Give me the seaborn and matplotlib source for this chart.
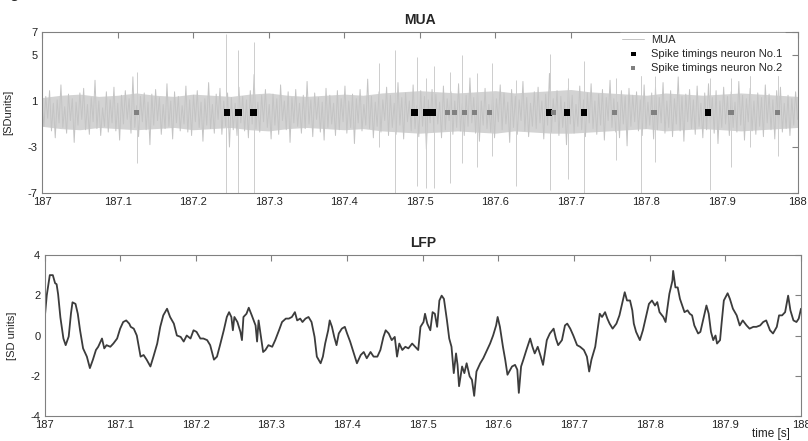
import numpy as np
import pandas as pd
import matplotlib
matplotlib.use('Agg')
import matplotlib.pyplot as plt
import seaborn as sns

sns.set_style("white")
plt.rcParams['font.family'] = ['Liberation Sans', 'DejaVu Sans']

# MUA trace (SD units), equally spaced samples over 187-188 s
mua_v = [
    0.6, -1.2, 1.4, -0.5, 1.9, -1.6, 0.8, -2.2, 1.1, -0.9, 2.4, -1.3, 0.5, -1.8, 1.6, -0.7, 1.2, -2.6, 0.9, -1.1,
    1.7, -0.6, 2.1, -1.5, 0.7, -1.9, 1.3, -0.8, 2.8, -1.4, 1.0, -2.0, 0.4, -1.2, 1.8, -1.7, 1.1, -0.9, 2.2, -1.6,
    0.8, -2.4, 1.5, -1.0, 1.9, -0.6, 1.2, -1.8, 3.1, -1.3, 0.6, -2.1, 1.4, -0.8, 1.7, -1.5, 0.9, -2.8, 1.6, -1.1,
    2.0, -0.7, 1.3, -1.9, 0.7, -1.4, 2.5, -1.2, 1.0, -2.3, 1.8, -0.9, 1.4, -1.6, 0.6, -1.0, 2.3, -1.7, 1.1, -2.0,
    1.5, -0.8, 1.9, -1.3, 0.9, -2.5, 1.2, -1.1, 2.6, -1.4, 0.7, -1.8, 1.6, -0.6, 2.1, -1.9, 1.0, -1.2, 1.7, -3.0,
    1.3, -1.5, 0.8, -2.0, 2.2, -0.9, 1.4, -1.6, 1.1, -2.2, 1.9, -1.0, 3.3, -1.4, 0.9, -1.7, 1.5, -0.8, 2.0, -1.3,
    0.7, -2.3, 1.6, -1.1, 1.2, -1.9, 2.4, -0.7, 1.0, -1.5, 1.8, -2.6, 1.3, -0.9, 2.0, -1.2, 0.8, -1.8, 1.5, -1.4,
    2.7, -1.0, 1.1, -2.1, 1.7, -0.6, 1.3, -1.7, 0.9, -2.4, 2.1, -1.3, 1.5, -1.0, 0.8, -2.0, 1.9, -1.5, 1.2, -0.8,
    2.3, -1.8, 1.0, -1.3, 1.6, -2.7, 1.2, -0.9, 2.0, -1.6, 0.7, -1.1, 2.9, -1.4, 1.4, -2.2, 0.9, -1.2, 1.8, -1.7,
    1.1, -0.7, 2.2, -2.0, 1.5, -1.3, 0.8, -1.9, 2.6, -1.1, 1.3, -2.3, 1.7, -0.8, 1.0, -1.6, 2.4, -1.4, 0.6, -2.1,
    1.9, -1.2, 1.4, -3.2, 1.1, -0.9, 2.0, -1.7, 1.6, -1.0, 0.9, -2.2, 2.3, -1.5, 1.2, -0.7, 1.8, -1.9, 1.0, -1.3,
    2.5, -1.6, 0.8, -2.0, 1.5, -1.2, 3.0, -0.9, 1.3, -1.8, 1.9, -2.5, 1.0, -1.1, 2.1, -1.4, 0.7, -1.7, 1.6, -2.2,
    1.2, -0.8, 2.4, -1.5, 1.7, -1.0, 0.9, -2.6, 2.0, -1.3, 1.4, -1.9, 1.1, -0.7, 2.7, -1.6, 1.3, -2.1, 0.8, -1.2,
    1.8, -1.4, 2.2, -0.9, 1.0, -2.3, 1.6, -1.1, 3.4, -1.7, 1.2, -0.8, 1.9, -2.0, 1.4, -1.3, 0.9, -2.8, 2.1, -1.0,
    1.5, -1.8, 0.7, -1.2, 2.3, -1.5, 1.1, -2.1, 1.7, -0.9, 2.5, -1.4, 1.0, -1.9, 1.6, -1.1, 2.0, -2.4, 1.3, -0.7,
    2.8, -1.3, 1.2, -1.7, 0.9, -2.2, 1.9, -1.0, 1.4, -2.9, 2.1, -1.2, 1.5, -0.8, 1.8, -1.6, 1.1, -2.0, 2.4, -1.4,
    0.9, -1.1, 1.7, -2.3, 2.2, -1.5, 1.3, -0.9, 2.6, -1.8, 1.0, -1.3, 1.9, -2.1, 1.2, -1.0, 3.1, -1.6, 1.4, -2.5,
    1.6, -0.8, 2.0, -1.4, 1.1, -1.9, 2.3, -1.2, 0.8, -2.2, 1.7, -1.5, 2.5, -0.9, 1.3, -1.8, 1.9, -2.7, 1.0, -1.3,
    2.2, -1.0, 1.4, -2.0, 1.8, -1.3, 0.9, -1.7, 2.7, -1.1, 1.5, -2.4, 1.2, -0.8, 2.1, -1.6, 1.0, -1.9, 1.7, -1.2,
    1.3, -2.1, 2.4, -0.9, 1.6, -1.5, 1.1, -2.3, 1.9, -1.0, 2.2, -1.7, 0.8, -1.4, 1.5, -2.0, 1.2, -1.1, 1.8, -0.6,
]

# dense core of the MUA band (upper / lower edge), every 25 ms
mua_core_hi = [1.3, 1.5, 1.6, 1.4, 1.5, 1.7, 1.5, 1.4, 1.6, 1.5, 1.4, 1.6, 1.7, 1.5,
               1.4, 1.5, 1.6, 1.5, 1.7, 1.8, 1.9, 1.8, 1.7, 1.8, 1.9, 1.7, 1.8, 1.9,
               2.0, 1.8, 1.7, 1.6, 1.5, 1.7, 1.6, 1.5, 1.6, 1.7, 1.6, 1.5, 1.4]
mua_core_lo = [-1.2, -1.4, -1.5, -1.3, -1.4, -1.5, -1.4, -1.3, -1.5, -1.4, -1.3, -1.5, -1.6, -1.4,
               -1.3, -1.4, -1.5, -1.4, -1.6, -1.7, -1.8, -1.7, -1.6, -1.7, -1.8, -1.6, -1.7, -1.8,
               -1.8, -1.7, -1.6, -1.5, -1.4, -1.6, -1.5, -1.4, -1.5, -1.6, -1.5, -1.4, -1.3]

# large MUA transients: time, peak, trough
spike_t = [187.126, 187.244, 187.260, 187.280, 187.446, 187.467, 187.496, 187.508,
           187.519, 187.540, 187.556, 187.576, 187.595, 187.627, 187.672, 187.696,
           187.717, 187.760, 187.793, 187.811, 187.884, 187.912, 187.937, 187.974]
spike_hi = [3.5, 6.8, 5.4, 6.1, 4.3, 5.4, 4.8, 3.0, 4.0, 3.5, 5.0, 3.4,
            4.3, 2.8, 5.1, 3.0, 4.5, 3.0, 5.7, 3.2, 3.0, 3.0, 4.5, 3.5]
spike_lo = [-4.4, -7.0, -7.0, -7.0, -3.0, -7.0, -6.4, -6.6, -6.6, -6.1, -4.4, -4.7,
            -3.8, -6.4, -6.7, -5.8, -7.0, -4.1, -7.0, -4.3, -6.7, -4.7, -3.0, -3.8]

# spike timings of the two sorted neurons
n1_t = [187.245, 187.260, 187.280, 187.493, 187.508, 187.517, 187.671, 187.695, 187.717, 187.882]
n2_t = [187.125, 187.537, 187.546, 187.559, 187.572, 187.592, 187.677, 187.758, 187.810, 187.912, 187.973]

# LFP trace (SD units)
lfp_t = [187.000, 187.003, 187.007, 187.011, 187.014, 187.016, 187.018, 187.021, 187.025, 187.028,
         187.032, 187.035, 187.037, 187.041, 187.044, 187.047, 187.051, 187.056, 187.060, 187.064,
         187.068, 187.071, 187.076, 187.079, 187.082, 187.087, 187.091, 187.096, 187.100, 187.104,
         187.108, 187.112, 187.114, 187.118, 187.122, 187.127, 187.131, 187.135, 187.140, 187.144,
         187.149, 187.153, 187.157, 187.162, 187.166, 187.171, 187.175, 187.180, 187.184, 187.188,
         187.193, 187.197, 187.201, 187.206, 187.210, 187.215, 187.219, 187.224, 187.228, 187.232,
         187.237, 187.241, 187.244, 187.247, 187.249, 187.251, 187.255, 187.259, 187.261, 187.263,
         187.267, 187.270, 187.274, 187.279, 187.281, 187.283, 187.289, 187.292, 187.296, 187.301,
         187.305, 187.310, 187.314, 187.319, 187.323, 187.327, 187.331, 187.334, 187.338, 187.341,
         187.345, 187.349, 187.353, 187.357, 187.360, 187.365, 187.368, 187.371, 187.375, 187.377,
         187.380, 187.383, 187.386, 187.389, 187.393, 187.397, 187.400, 187.404, 187.409, 187.413,
         187.418, 187.422, 187.426, 187.431, 187.435, 187.440, 187.444, 187.448, 187.451, 187.455,
         187.459, 187.463, 187.466, 187.469, 187.473, 187.477, 187.481, 187.486, 187.490, 187.494,
         187.497, 187.501, 187.503, 187.506, 187.510, 187.513, 187.516, 187.519, 187.522, 187.525,
         187.528, 187.532, 187.535, 187.538, 187.541, 187.544, 187.546, 187.548, 187.552, 187.555,
         187.558, 187.562, 187.565, 187.568, 187.571, 187.576, 187.580, 187.585, 187.589, 187.593,
         187.597, 187.599, 187.602, 187.606, 187.609, 187.612, 187.618, 187.622, 187.625, 187.627,
         187.630, 187.633, 187.637, 187.642, 187.645, 187.648, 187.652, 187.656, 187.659, 187.664,
         187.668, 187.673, 187.676, 187.679, 187.684, 187.688, 187.691, 187.695, 187.699, 187.704,
         187.708, 187.713, 187.717, 187.720, 187.723, 187.728, 187.731, 187.734, 187.737, 187.741,
         187.744, 187.747, 187.751, 187.756, 187.760, 187.764, 187.767, 187.770, 187.774, 187.777,
         187.779, 187.782, 187.787, 187.791, 187.796, 187.799, 187.803, 187.807, 187.810, 187.813,
         187.818, 187.821, 187.823, 187.826, 187.830, 187.831, 187.834, 187.837, 187.840, 187.843,
         187.846, 187.850, 187.853, 187.856, 187.859, 187.864, 187.867, 187.871, 187.875, 187.878,
         187.881, 187.884, 187.887, 187.889, 187.893, 187.895, 187.898, 187.903, 187.906, 187.910,
         187.915, 187.919, 187.923, 187.928, 187.932, 187.937, 187.941, 187.946, 187.950, 187.954,
         187.959, 187.963, 187.968, 187.971, 187.975, 187.979, 187.983, 187.986, 187.990, 187.994,
         187.997, 188.000]
lfp_v = [0.75, 2.0, 3.0, 3.0, 2.6, 2.55, 2.05, 0.9, -0.15, -0.48,
         -0.05, 1.1, 1.65, 1.57, 1.08, 0.26, -0.64, -1.05, -1.62, -1.2,
         -0.72, -0.56, -0.15, -0.64, -0.48, -0.56, -0.4, -0.15, 0.34, 0.67,
         0.75, 0.59, 0.43, 0.34, 0.0, -1.05, -0.97, -1.2, -1.54, -1.05,
         -0.4, 0.43, 1.0, 1.33, 0.92, 0.59, 0.0, -0.07, -0.3, 0.0,
         -0.15, 0.26, 0.18, -0.15, -0.15, -0.23, -0.48, -1.2, -1.05, -0.48,
         0.26, 0.92, 1.16, 0.92, 0.26, 0.92, 0.67, 0.18, -0.23, 0.92,
         1.08, 1.38, 1.0, 0.5, -0.3, 0.75, -0.82, -0.72, -0.48, -0.56,
         -0.23, 0.26, 0.67, 0.84, 0.84, 0.92, 1.16, 0.75, 0.84, 0.67,
         0.84, 0.92, 0.67, -0.07, -1.05, -1.38, -1.05, -0.4, 0.26, 0.75,
         0.43, -0.07, -0.48, 0.1, 0.34, 0.43, 0.1, -0.3, -0.89, -1.38,
         -0.97, -0.82, -1.13, -0.82, -1.05, -1.05, -0.72, -0.07, 0.26, 0.1,
         -0.23, -0.07, -1.05, -0.4, -0.72, -0.56, -0.64, -0.4, -0.56, -0.72,
         0.43, 0.67, 1.08, 0.59, 0.26, 1.16, 1.08, 0.43, 1.74, 1.98,
         1.82, 0.75, -0.15, -0.56, -1.87, -0.89, -1.46, -2.52, -1.54, -1.87,
         -1.38, -2.03, -2.2, -3.0, -1.79, -1.38, -1.13, -0.72, -0.4, 0.0,
         0.5, 0.92, 0.43, -0.56, -1.2, -1.95, -1.54, -1.46, -1.7, -2.85,
         -1.54, -1.2, -0.72, -0.15, -0.56, -0.89, -0.56, -1.05, -1.46, -0.23,
         0.1, 0.34, -0.15, -0.48, -0.23, 0.5, 0.59, 0.34, 0.0, -0.48,
         -0.56, -0.72, -1.05, -1.79, -1.2, -0.56, 0.26, 1.08, 0.92, 1.16,
         0.84, 0.59, 0.34, 0.59, 1.0, 1.66, 2.15, 1.74, 1.74, 1.25,
         0.59, 0.18, -0.23, 0.26, 1.08, 1.57, 1.74, 1.49, 1.66, 1.16,
         0.92, 0.67, 1.25, 2.07, 2.72, 3.21, 2.39, 2.39, 1.82, 1.49,
         1.16, 1.25, 1.08, 1.0, 0.5, 0.1, 0.18, 0.84, 1.49, 1.08,
         0.18, -0.23, 0.0, -0.4, -0.23, 0.59, 1.74, 2.1, 1.82, 1.33,
         1.0, 0.5, 0.75, 0.5, 0.34, 0.43, 0.43, 0.5, 0.67, 0.75,
         0.26, 0.1, 0.43, 1.0, 1.0, 1.16, 1.98, 1.25, 0.75, 0.67,
         0.84, 1.33]

x_ticks = [187, 187.1, 187.2, 187.3, 187.4, 187.5, 187.6, 187.7, 187.8, 187.9, 188]
x_labels = ['187', '187.1', '187.2', '187.3', '187.4', '187.5', '187.6', '187.7', '187.8', '187.9', '188']
mua_yticks = [-7, -3, 1, 5, 7]
lfp_yticks = [-4, -2, 0, 2, 4]

fig = plt.figure(figsize=(8.08, 4.41), dpi=100)
ax1 = fig.add_axes([42 / 808, 1 - 193 / 441, 755.5 / 808, 161 / 441])
ax2 = fig.add_axes([44.5 / 808, 1 - 416 / 441, 756.5 / 808, 161 / 441])

# MUA panel
core_t = np.linspace(187, 188, len(mua_core_hi))
ax1.fill_between(core_t, mua_core_lo, mua_core_hi, color='#d3d3d3', lw=0)
mua = pd.DataFrame({'t': np.linspace(187, 188, len(mua_v)), 'v': mua_v})
sns.lineplot(data=mua, x='t', y='v', ax=ax1, color='#c4c4c4', lw=0.7, label='MUA')
ax1.vlines(spike_t, spike_lo, spike_hi, color='#cdcdcd', lw=0.7)
sns.scatterplot(x=n1_t, y=np.zeros(len(n1_t)), ax=ax1, marker='s', s=20, color='black',
                edgecolor='none', label='Spike timings neuron No.1', zorder=5)
sns.scatterplot(x=n2_t, y=np.zeros(len(n2_t)), ax=ax1, marker='s', s=14, color='#808080',
                edgecolor='none', label='Spike timings neuron No.2', zorder=5)
ax1.set_ylim(-7, 7)
ax1.set_yticks(mua_yticks)
ax1.set_yticklabels([str(v) for v in mua_yticks])
ax1.set_title('MUA', fontsize=10, fontweight='bold', pad=6)
ax1.set_ylabel('[SDunits]', fontsize=8)
ax1.yaxis.set_label_coords(-29 / 755.5, 0.5)
leg = ax1.legend(loc='upper left', bbox_to_anchor=(578 / 755.5, 0.995), fontsize=8,
                 frameon=True, facecolor='white', edgecolor='white', framealpha=1,
                 handlelength=2.0, handletextpad=0.6, labelspacing=0.35, borderpad=0.2,
                 borderaxespad=0, fancybox=False, markerscale=0.8)
leg.set_zorder(10)

# LFP panel
lfp = pd.DataFrame({'t': lfp_t, 'v': lfp_v})
sns.lineplot(data=lfp, x='t', y='v', ax=ax2, color='#3c3c3c', lw=1.3)
ax2.set_ylim(-4, 4)
ax2.set_yticks(lfp_yticks)
ax2.set_yticklabels([str(v) for v in lfp_yticks])
ax2.set_title('LFP', fontsize=10, fontweight='bold', pad=6)
ax2.set_ylabel('[SD units]', fontsize=8)
ax2.yaxis.set_label_coords(-27.5 / 756.5, 0.5)

for ax in (ax1, ax2):
    ax.set_xlim(187, 188)
    ax.set_xticks(x_ticks)
    ax.set_xticklabels(x_labels)
    ax.set_xlabel('')
    ax.tick_params(direction='in', top=True, right=True, length=4, width=0.8,
                   color='#808080', labelsize=8, pad=3, labelcolor='#222222')
    for sp in ax.spines.values():
        sp.set_color('#808080')
        sp.set_linewidth(0.8)

fig.text(790 / 808, 1 / 441, 'time [s]', fontsize=8.5, ha='right', va='bottom', color='#222222')
fig.text(14 / 808, 1.004, 'g', fontsize=12, ha='center', va='baseline')

fig.savefig('out.png', dpi=100)
